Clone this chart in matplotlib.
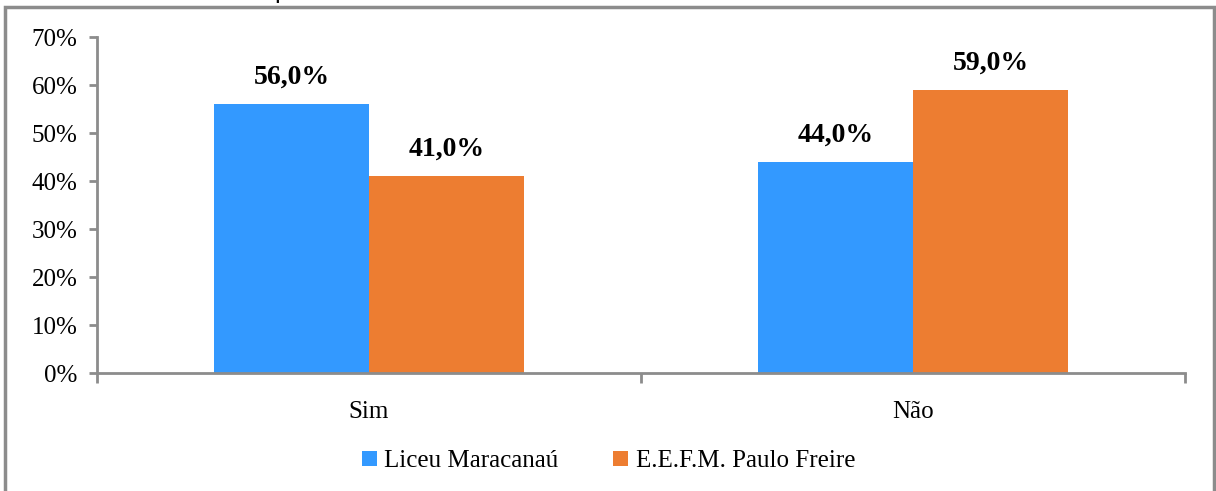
import matplotlib.pyplot as plt
import numpy as np
from matplotlib.patches import Rectangle

plt.rcParams['font.family'] = ['Liberation Serif', 'DejaVu Serif']

categorias = ['Sim', 'Não']
liceu = [56.0, 44.0]
paulo_freire = [41.0, 59.0]
series = ['Liceu Maracanaú', 'E.E.F.M. Paulo Freire']
cores = ['#3399FF', '#ED7D31']
yticks = [0, 10, 20, 30, 40, 50, 60, 70]

fig = plt.figure(figsize=(12.16, 4.91), dpi=100)
ax = fig.add_axes([0.0798, 0.2403, 0.8947, 0.6843])

# moldura externa do gráfico
fig.patches.append(Rectangle((5 / 1216, -0.05), 1209 / 1216, 1.05 - 7 / 491,
                             transform=fig.transFigure, fill=False,
                             edgecolor='#8c8c8c', linewidth=2.5))

# título cortado no topo
fig.text(0.0, 1.0 + 2 / 491, 'Gráfico 4 – Prática de esporte na escola',
         fontsize=18, family=['Liberation Sans'], va='baseline', ha='left')

x = np.arange(len(categorias))
w = 0.285
b1 = ax.bar(x - w / 2, liceu, w, color=cores[0], label=series[0])
b2 = ax.bar(x + w / 2, paulo_freire, w, color=cores[1], label=series[1])

for barras in (b1, b2):
    for r in barras:
        v = r.get_height()
        ax.text(r.get_x() + r.get_width() / 2, v + 3.0, f'{v:.1f}%'.replace('.', ','),
                ha='center', va='bottom', fontsize=20, fontweight='bold')

ax.set_xlim(-0.5, 1.5)
ax.set_ylim(0, 70)
ax.set_yticks(yticks)
ax.set_yticklabels([f'{t}%' for t in yticks], fontsize=18)
ax.set_xticks(x)
ax.set_xticklabels(categorias, fontsize=18)
ax.tick_params(axis='x', length=0, pad=20)
ax.tick_params(axis='y', length=6, width=2, color='#8c8c8c', pad=8)

# marcas entre as categorias
ax.set_xticks([-0.5, 0.5, 1.5], minor=True)
ax.tick_params(axis='x', which='minor', length=7, width=2, color='#8c8c8c', direction='out')

for s in ['top', 'right']:
    ax.spines[s].set_visible(False)
for s in ['left', 'bottom']:
    ax.spines[s].set_color('#8c8c8c')
    ax.spines[s].set_linewidth(2)

ax.legend(loc='upper center', bbox_to_anchor=(0.47, -0.163), ncol=2, frameon=False,
          fontsize=18, handlelength=0.6, handleheight=0.6, handletextpad=0.3,
          columnspacing=2.2)

fig.savefig('out.png', dpi=100)
